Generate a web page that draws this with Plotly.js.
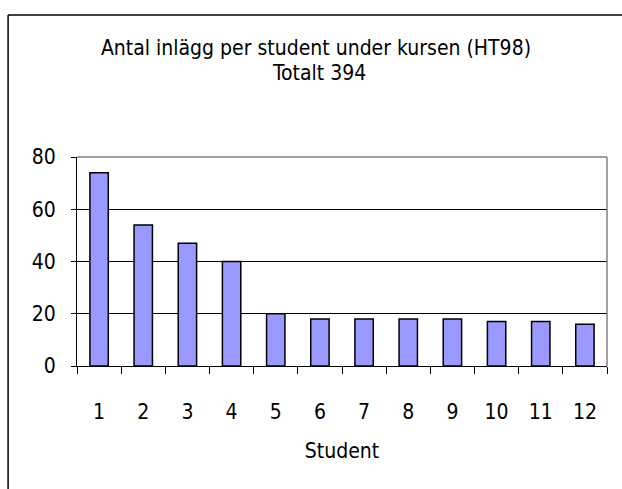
<!DOCTYPE html>
<html>
<head>
<meta charset="utf-8">
<script src="https://cdn.plot.ly/plotly-3.0.1.min.js"></script>
<style>html,body{margin:0;padding:0;background:#fff;}#chart{width:622px;height:489px;}</style>
</head>
<body>
<div id="chart"></div>
<script>
var students = ['1','2','3','4','5','6','7','8','9','10','11','12'];
var posts = [74, 54, 47, 40, 20, 18, 18, 18, 18, 17, 17, 16];
var titleLine1 = 'Antal inlägg per student under kursen (HT98)';
var titleLine2 = 'Totalt 394';
var xTitle = 'Student';
var yTicks = [0, 20, 40, 60, 80];

var FONT = '"Liberation Sans Narrow", "DejaVu Sans Condensed", "Arial Narrow", sans-serif';

var trace = {
  type: 'bar',
  x: students,
  y: posts,
  marker: {color: '#9999FF', line: {color: '#000000', width: 1.5}},
  hoverinfo: 'x+y'
};

var layout = {
  width: 622, height: 489,
  paper_bgcolor: '#ffffff', plot_bgcolor: '#ffffff',
  margin: {l: 77, r: 15, t: 157, b: 123},
  showlegend: false,
  bargap: 0.584,
  font: {family: FONT, size: 21, color: '#000000'},
  title: {text: titleLine1, font: {family: FONT, size: 21, color: '#000'}, x: 0.508, xanchor: 'center', y: 0.902, yanchor: 'middle'},
  annotations: [{
    text: titleLine2, xref: 'paper', yref: 'paper', x: 0.457, y: 1.402, xanchor: 'center', yanchor: 'middle',
    showarrow: false, font: {family: FONT, size: 21, color: '#000'}
  }],
  xaxis: {
    type: 'category',
    tickson: 'boundaries',
    ticks: 'outside', ticklen: 7, tickcolor: '#000', tickwidth: 1,
    showline: true, linecolor: '#000', linewidth: 1,
    showgrid: false, zeroline: false,
    tickfont: {family: FONT, size: 21},
    ticklabelstandoff: 27,
    title: {text: xTitle, font: {family: FONT, size: 21}, standoff: 20}
  },
  yaxis: {
    range: [0, 80],
    tickvals: yTicks,
    ticks: 'outside', ticklen: 5, tickcolor: '#000', tickwidth: 1,
    showline: true, linecolor: '#000', linewidth: 1,
    showgrid: true, gridcolor: '#000', gridwidth: 1,
    zeroline: false,
    tickfont: {family: FONT, size: 21},
    ticklabelstandoff: 11
  },
  shapes: [
    {type: 'line', xref: 'paper', yref: 'paper', x0: 0, x1: 1, y0: 1, y1: 1, line: {color: '#808080', width: 1.5}},
    {type: 'line', xref: 'paper', yref: 'paper', x0: 1, x1: 1, y0: 0, y1: 1, line: {color: '#808080', width: 1.5}},
    {type: 'line', xref: 'paper', yref: 'paper', x0: -0.13, x1: 1.04, y0: 1.679, y1: 1.679, line: {color: '#000', width: 1.5}},
    {type: 'line', xref: 'paper', yref: 'paper', x0: -0.13, x1: -0.13, y0: 1.679, y1: -0.6, line: {color: '#000', width: 1.5}}
  ]
};

Plotly.newPlot('chart', [trace], layout, {displayModeBar: false, staticPlot: true});
</script>
</body>
</html>
